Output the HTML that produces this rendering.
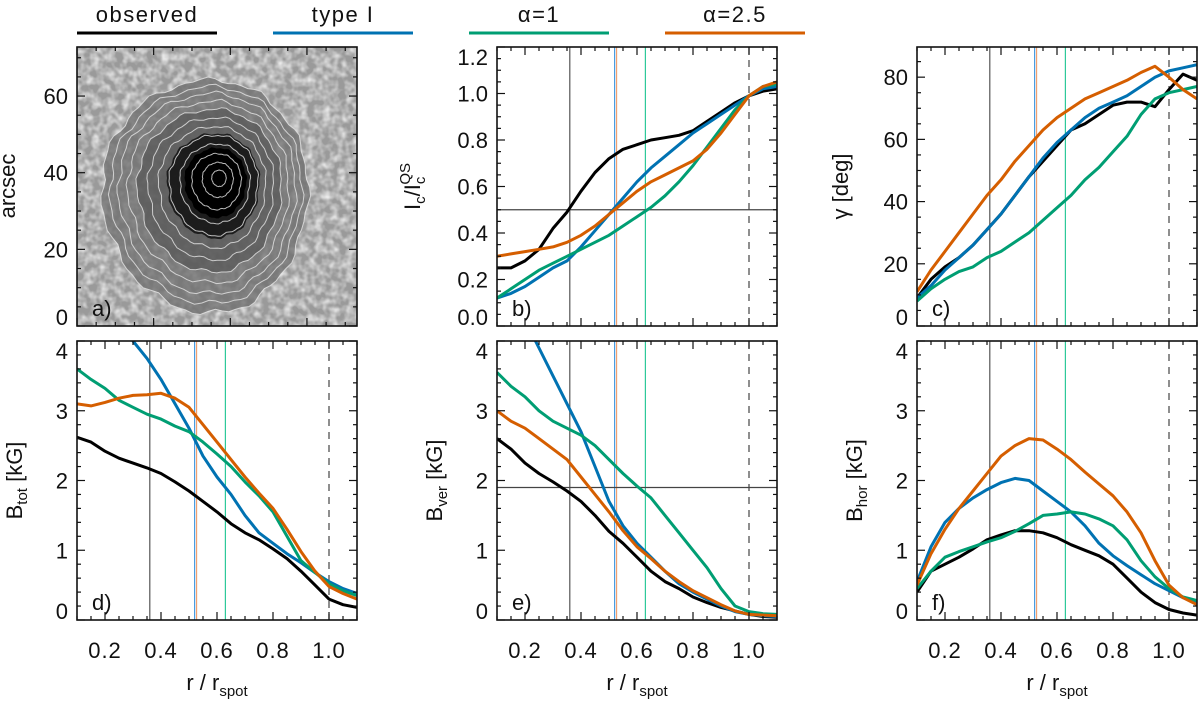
<!DOCTYPE html>
<html><head><meta charset="utf-8">
<style>
html,body{margin:0;padding:0;background:#fff;}
svg{display:block;font-family:"Liberation Sans",sans-serif;}
text{fill:#111;}
</style></head>
<body>
<svg id="fig" width="1200" height="702" viewBox="0 0 1200 702">
<defs>
<filter id="gran" x="0" y="0" width="100%" height="100%">
<feTurbulence type="fractalNoise" baseFrequency="0.13" numOctaves="2" seed="3"/>
<feColorMatrix type="matrix" values="0 0 0 0 0.92  0 0 0 0 0.92  0 0 0 0 0.92  1.6 0 0 0 -0.55"/>
</filter>
<radialGradient id="spot" cx="0.5" cy="0.5" r="0.5">
<stop offset="0" stop-color="#1a1a1a" stop-opacity="0.9"/>
<stop offset="0.5" stop-color="#333" stop-opacity="0.7"/>
<stop offset="0.85" stop-color="#555" stop-opacity="0.5"/>
<stop offset="1" stop-color="#777" stop-opacity="0"/>
</radialGradient>
<clipPath id="clipA"><rect x="77" y="47" width="280" height="279"/></clipPath>
</defs>
<g id="legend"></g>
<g id="imgpanel"></g>
<g id="panels"></g>
</svg>
<script>
// ---------- data ----------
const radius = [0.1,0.15,0.2,0.25,0.3,0.35,0.4,0.45,0.5,0.55,0.6,0.65,0.7,0.75,0.8,0.85,0.9,0.95,1.0,1.05,1.1];
const seriesNames = ["observed","type I","\u03b1=1","\u03b1=2.5"];
const seriesColors = ["#000000","#0072b2","#009e73","#d55e00"];
const refLineX = [0.36,0.52,0.63,0.527];
const refLineColors = ["#555555","#4a9be0","#2ec99a","#f0a070"];

const icObserved = [0.25,0.25,0.28,0.33,0.42,0.49,0.58,0.66,0.72,0.76,0.78,0.80,0.81,0.82,0.84,0.88,0.92,0.96,0.99,1.01,1.02];
const icType1    = [0.12,0.14,0.17,0.21,0.25,0.28,0.34,0.41,0.48,0.55,0.62,0.68,0.73,0.78,0.83,0.87,0.91,0.95,0.99,1.02,1.03];
const icAlpha1   = [0.12,0.16,0.20,0.24,0.27,0.30,0.33,0.36,0.39,0.43,0.47,0.51,0.56,0.62,0.69,0.77,0.85,0.93,0.99,1.03,1.04];
const icAlpha25  = [0.30,0.31,0.32,0.33,0.34,0.36,0.39,0.43,0.48,0.53,0.58,0.62,0.65,0.68,0.71,0.76,0.83,0.91,0.99,1.03,1.05];

const gamObserved = [9,15,19,22,26,31,36,42,48,53,58,63,65,68,71,72,72,70.5,76,81,79];
const gamType1    = [9,13,18,22,26,31,36,42,48,54,59,63,67,70,72,74,77,80,82,83,84];
const gamAlpha1   = [8,12,15,17.5,19,22,24,27,30,34,38,42,47,51,56,61,68,73,75,76,77];
const gamAlpha25  = [11,18,24,30,36,42,47,53,58,63,67,70,73,75,77,79,81.5,83.5,80,76,73];

const btotObserved = [2.62,2.55,2.42,2.32,2.25,2.18,2.1,1.98,1.85,1.7,1.55,1.38,1.25,1.15,1.02,0.88,0.7,0.5,0.3,0.22,0.18];
const btotType1    = [5.2,4.9,4.6,4.3,4.0,3.75,3.45,3.1,2.75,2.35,2.05,1.8,1.5,1.25,1.1,0.95,0.82,0.68,0.55,0.45,0.38];
const btotAlpha1   = [3.6,3.45,3.32,3.15,3.05,2.95,2.88,2.78,2.7,2.55,2.38,2.2,1.98,1.78,1.55,1.2,0.85,0.68,0.52,0.42,0.35];
const btotAlpha25  = [3.1,3.07,3.12,3.18,3.22,3.23,3.25,3.18,3.05,2.8,2.55,2.3,2.05,1.82,1.6,1.3,0.98,0.7,0.48,0.38,0.3];

const bverObserved = [2.6,2.45,2.25,2.1,1.98,1.85,1.7,1.5,1.27,1.1,0.9,0.7,0.55,0.45,0.33,0.25,0.18,0.13,0.08,0.05,0.04];
const bverType1    = [5.2,4.7,4.3,3.9,3.5,3.1,2.7,2.2,1.7,1.35,1.1,0.9,0.7,0.52,0.4,0.3,0.2,0.12,0.08,0.06,0.05];
const bverAlpha1   = [3.55,3.35,3.2,3.0,2.85,2.75,2.65,2.5,2.3,2.1,1.92,1.75,1.5,1.25,1.0,0.75,0.45,0.2,0.12,0.09,0.08];
const bverAlpha25  = [3.0,2.85,2.75,2.6,2.45,2.3,2.05,1.8,1.55,1.28,1.05,0.88,0.7,0.55,0.42,0.32,0.22,0.13,0.08,0.07,0.06];

const bhorObserved = [0.4,0.7,0.8,0.9,1.02,1.15,1.22,1.28,1.28,1.25,1.18,1.08,1.0,0.92,0.8,0.6,0.4,0.25,0.15,0.1,0.07];
const bhorType1    = [0.55,1.05,1.4,1.6,1.75,1.87,1.97,2.03,2.0,1.85,1.7,1.55,1.35,1.1,0.92,0.78,0.65,0.52,0.42,0.32,0.25];
const bhorAlpha1   = [0.45,0.7,0.9,0.98,1.05,1.12,1.18,1.27,1.38,1.5,1.52,1.55,1.52,1.45,1.35,1.15,0.85,0.62,0.45,0.33,0.28];
const bhorAlpha25  = [0.5,0.95,1.3,1.6,1.85,2.1,2.35,2.5,2.6,2.58,2.45,2.3,2.12,1.95,1.78,1.55,1.25,0.85,0.5,0.32,0.22];

const xTickLabels = ["0.2","0.4","0.6","0.8","1.0"];
const xTickValues = [0.2,0.4,0.6,0.8,1.0];

// ---------- helpers ----------
const NS="http://www.w3.org/2000/svg";
const svg=document.getElementById('fig');
function mk(tag,attrs,parent){const e=document.createElementNS(NS,tag);for(const k in attrs)e.setAttribute(k,attrs[k]);(parent||svg).appendChild(e);return e;}

// ---------- legend ----------
const leg=document.getElementById('legend');
const legX=[77,273,469,665];
seriesNames.forEach((n,i)=>{
  const g=mk('g',{},leg);
  
  
  const t=mk('text',{x:legX[i]+70,y:22,'text-anchor':'middle','font-size':22,'letter-spacing':'1.5'},g);
  t.textContent=n;
  mk('line',{x1:legX[i],x2:legX[i]+140,y1:33,y2:33,stroke:seriesColors[i],'stroke-width':3},g);
});

// ---------- axis panel builder ----------
function panel(opt){
  const g=mk('g',{},document.getElementById('panels'));
  
  
  const L=opt.x,T=opt.y,W=280,H=279;
  const sx=v=>L+(v-opt.xmin)/(opt.xmax-opt.xmin)*W;
  const sy=v=>T+H-(v-opt.ymin)/(opt.ymax-opt.ymin)*H;
  const cid='clip'+opt.name;
  const cp=mk('clipPath',{id:cid},g);mk('rect',{x:L,y:T,width:W,height:H},cp);
  const pg=mk('g',{'clip-path':'url(#'+cid+')'},g);
  refLineX.forEach((v,i)=>{
    const l=mk('line',{x1:sx(v),x2:sx(v),y1:T,y2:T+H,stroke:refLineColors[i],'stroke-width':1.2},pg);
    
    
  });
  const dl=mk('line',{x1:sx(1.0),x2:sx(1.0),y1:T,y2:T+H,stroke:'#444','stroke-width':1.2,'stroke-dasharray':'7,6'},pg);
  
  
  if(opt.hline!==undefined){
    const hl=mk('line',{x1:L,x2:L+W,y1:sy(opt.hline),y2:sy(opt.hline),stroke:'#444','stroke-width':1.2},pg);
    
    
  }
  opt.series.forEach((s,i)=>{
    const d=s.map((v,j)=>(j?'L':'M')+sx(radius[j]).toFixed(1)+','+sy(v).toFixed(1)).join(' ');
    const p=mk('path',{d:d,fill:'none',stroke:seriesColors[i],'stroke-width':3,'stroke-linejoin':'round'},pg);
    
    
  });
  mk('rect',{x:L,y:T,width:W,height:H,fill:'none',stroke:'#111','stroke-width':1.6},g);
  for(let v=opt.xminor0;v<=opt.xmax+1e-6;v+=opt.xminor){
    const isMaj=Math.abs(Math.round((v-opt.xmaj0)/opt.xmaj)*opt.xmaj-(v-opt.xmaj0))<1e-6;
    const len=isMaj?8:4,X=sx(v);
    mk('line',{x1:X,x2:X,y1:T+H,y2:T+H-len,stroke:'#111','stroke-width':1.2},g);
    mk('line',{x1:X,x2:X,y1:T,y2:T+len,stroke:'#111','stroke-width':1.2},g);
  }
  for(let v=opt.ymin;v<=opt.ymax+1e-6;v+=opt.yminor){
    const isMaj=Math.abs(Math.round(v/opt.ymaj)*opt.ymaj-v)<1e-6;
    const len=isMaj?8:4,Y=sy(v);
    mk('line',{x1:L,x2:L+len,y1:Y,y2:Y,stroke:'#111','stroke-width':1.2},g);
    mk('line',{x1:L+W,x2:L+W-len,y1:Y,y2:Y,stroke:'#111','stroke-width':1.2},g);
  }
  opt.yLabels.forEach((lab,i)=>{
    let Y=sy(opt.yLabelVals[i]);
    Y=Math.max(T+10,Math.min(T+H-9,Y));
    const t=mk('text',{x:L-9,y:Y+8,'text-anchor':'end','font-size':22},g);
    t.textContent=lab;
    
    
  });
  if(opt.xlabels){
    xTickValues.forEach((v,i)=>{
      const t=mk('text',{x:sx(v),y:658,'text-anchor':'middle','font-size':22,'letter-spacing':'1'},g);
      t.textContent=xTickLabels[i];
      
      
    });
    const xt=mk('text',{x:L+W/2,y:690,'text-anchor':'middle','font-size':22},g);
    xt.innerHTML='r / r<tspan font-size="15" dy="6">spot</tspan>';
    
    
  }
  const yt=mk('text',{x:0,y:0,'text-anchor':'middle','font-size':22,transform:'translate('+(L-opt.ytOff)+','+(T+H/2)+') rotate(-90)'},g);
  yt.innerHTML=opt.ytitle;
  
  
  const pl=mk('text',{x:L+15,y:T+H-10,'font-size':22},g);
  pl.textContent=opt.letter;
  
  
}

// ---------- image panel a ----------
(function(){
  const ip=document.getElementById('imgpanel');
  const g=mk('g',{'clip-path':'url(#clipA)'},ip);
  mk('rect',{x:77,y:47,width:280,height:279,fill:'#9a9a9a'},g);
  mk('rect',{x:77,y:47,width:280,height:279,filter:'url(#gran)'},g);
  function blob(s,cxo,cyo,wamp){
    let d='';
    for(let i=0;i<=90;i++){
      const a=i/90*2*Math.PI;
      const rx=(Math.cos(a)>0?96:110), ry=(Math.sin(a)>0?126:107);
      const wob=1+wamp*Math.sin(11*a+s*7)+wamp*0.7*Math.sin(23*a+s*13);
      const cx=220-(s)*8+cxo, cy=177+(s)*10+cyo;
      d+=(i?'L':'M')+(cx+Math.cos(a)*rx*s*wob).toFixed(1)+','+(cy+Math.sin(a)*ry*s*wob).toFixed(1);
    }
    return d+'Z';
  }
  mk('path',{d:blob(1.0,0,0,0.02),fill:'#6e6e6e','fill-opacity':0.75},g);
  mk('path',{d:blob(0.7,0,0,0.02),fill:'#505050','fill-opacity':0.6},g);
  mk('path',{d:blob(0.45,0,0,0.02),fill:'#151515','fill-opacity':0.9},g);
  mk('path',{d:blob(0.3,0,0,0.02),fill:'#000'},g);
  const scales=[0.07,0.15,0.24,0.34,0.43,0.52,0.61,0.7,0.78,0.86,0.93,1.0];
  scales.forEach(s=>{
    mk('path',{d:blob(s,0,0,0.018),fill:'none',stroke:'#e6e6e6','stroke-width':1,'stroke-opacity':0.8},g);
  });
  mk('rect',{x:77,y:47,width:280,height:279,fill:'none',stroke:'#111','stroke-width':1.6},ip);
  const sy=v=>326-v*279/72.8, sx=v=>77+v*279/72.8;
  for(let v=0;v<=72;v+=5){const len=v%20==0?8:4;
    mk('line',{x1:77,x2:77+len,y1:sy(v),y2:sy(v),stroke:'#111','stroke-width':1.2},ip);
    mk('line',{x1:357,x2:357-len,y1:sy(v),y2:sy(v),stroke:'#111','stroke-width':1.2},ip);
    mk('line',{x1:sx(v),x2:sx(v),y1:326,y2:326-len,stroke:'#111','stroke-width':1.2},ip);
    mk('line',{x1:sx(v),x2:sx(v),y1:47,y2:47+len,stroke:'#111','stroke-width':1.2},ip);
  }
  ['0','20','40','60'].forEach((lab,i)=>{
    const Y=Math.min(317,sy(i*20));
    const t=mk('text',{x:68,y:Y+8,'text-anchor':'end','font-size':22},ip);t.textContent=lab;
  });
  const yt=mk('text',{x:0,y:0,'text-anchor':'middle','font-size':22,transform:'translate(15,186) rotate(-90)'},ip);
  yt.textContent='arcsec';
  
  
  const pl=mk('text',{x:92,y:316,'font-size':22},ip);pl.textContent='a)';
  
  
})();

const common={xmin:0.1,xmax:1.1,xminor0:0.1,xminor:0.05,xmaj0:0.2,xmaj:0.2};
panel(Object.assign({},common,{name:'panel-b-intensity',x:497,y:47,ymin:0,ymax:1.2,ymaj:0.2,yminor:0.05,
  yLabels:['0.0','0.2','0.4','0.6','0.8','1.0','1.2'],yLabelVals:[0,0.2,0.4,0.6,0.8,1.0,1.2],
  series:[icObserved,icType1,icAlpha1,icAlpha25],hline:0.5,letter:'b)',ytOff:77,
  ytitle:'I<tspan font-size="15" dy="5">c</tspan><tspan dy="-5">/I</tspan><tspan font-size="15" dy="5">c</tspan><tspan font-size="15" dx="-8" dy="-15">QS</tspan>'}));
panel(Object.assign({},common,{name:'panel-c-inclination',x:917,y:47,ymin:0,ymax:89.7,ymaj:20,yminor:5,
  yLabels:['0','20','40','60','80'],yLabelVals:[0,20,40,60,80],
  series:[gamObserved,gamType1,gamAlpha1,gamAlpha25],letter:'c)',ytOff:69,
  ytitle:'\u03b3  [deg]'}));
panel(Object.assign({},common,{name:'panel-d-btot',x:77,y:341,ymin:0,ymax:4,ymaj:1,yminor:0.2,
  yLabels:['0','1','2','3','4'],yLabelVals:[0,1,2,3,4],
  series:[btotObserved,btotType1,btotAlpha1,btotAlpha25],letter:'d)',ytOff:55,xlabels:true,
  ytitle:'B<tspan font-size="15" dy="5">tot</tspan><tspan dy="-5">  [kG]</tspan>'}));
panel(Object.assign({},common,{name:'panel-e-bver',x:497,y:341,ymin:0,ymax:4,ymaj:1,yminor:0.2,
  yLabels:['0','1','2','3','4'],yLabelVals:[0,1,2,3,4],
  series:[bverObserved,bverType1,bverAlpha1,bverAlpha25],hline:1.9,letter:'e)',ytOff:55,xlabels:true,
  ytitle:'B<tspan font-size="15" dy="5">ver</tspan><tspan dy="-5">  [kG]</tspan>'}));
panel(Object.assign({},common,{name:'panel-f-bhor',x:917,y:341,ymin:0,ymax:4,ymaj:1,yminor:0.2,
  yLabels:['0','1','2','3','4'],yLabelVals:[0,1,2,3,4],
  series:[bhorObserved,bhorType1,bhorAlpha1,bhorAlpha25],letter:'f)',ytOff:55,xlabels:true,
  ytitle:'B<tspan font-size="15" dy="5">hor</tspan><tspan dy="-5">  [kG]</tspan>'}));
</script>
</body></html>
